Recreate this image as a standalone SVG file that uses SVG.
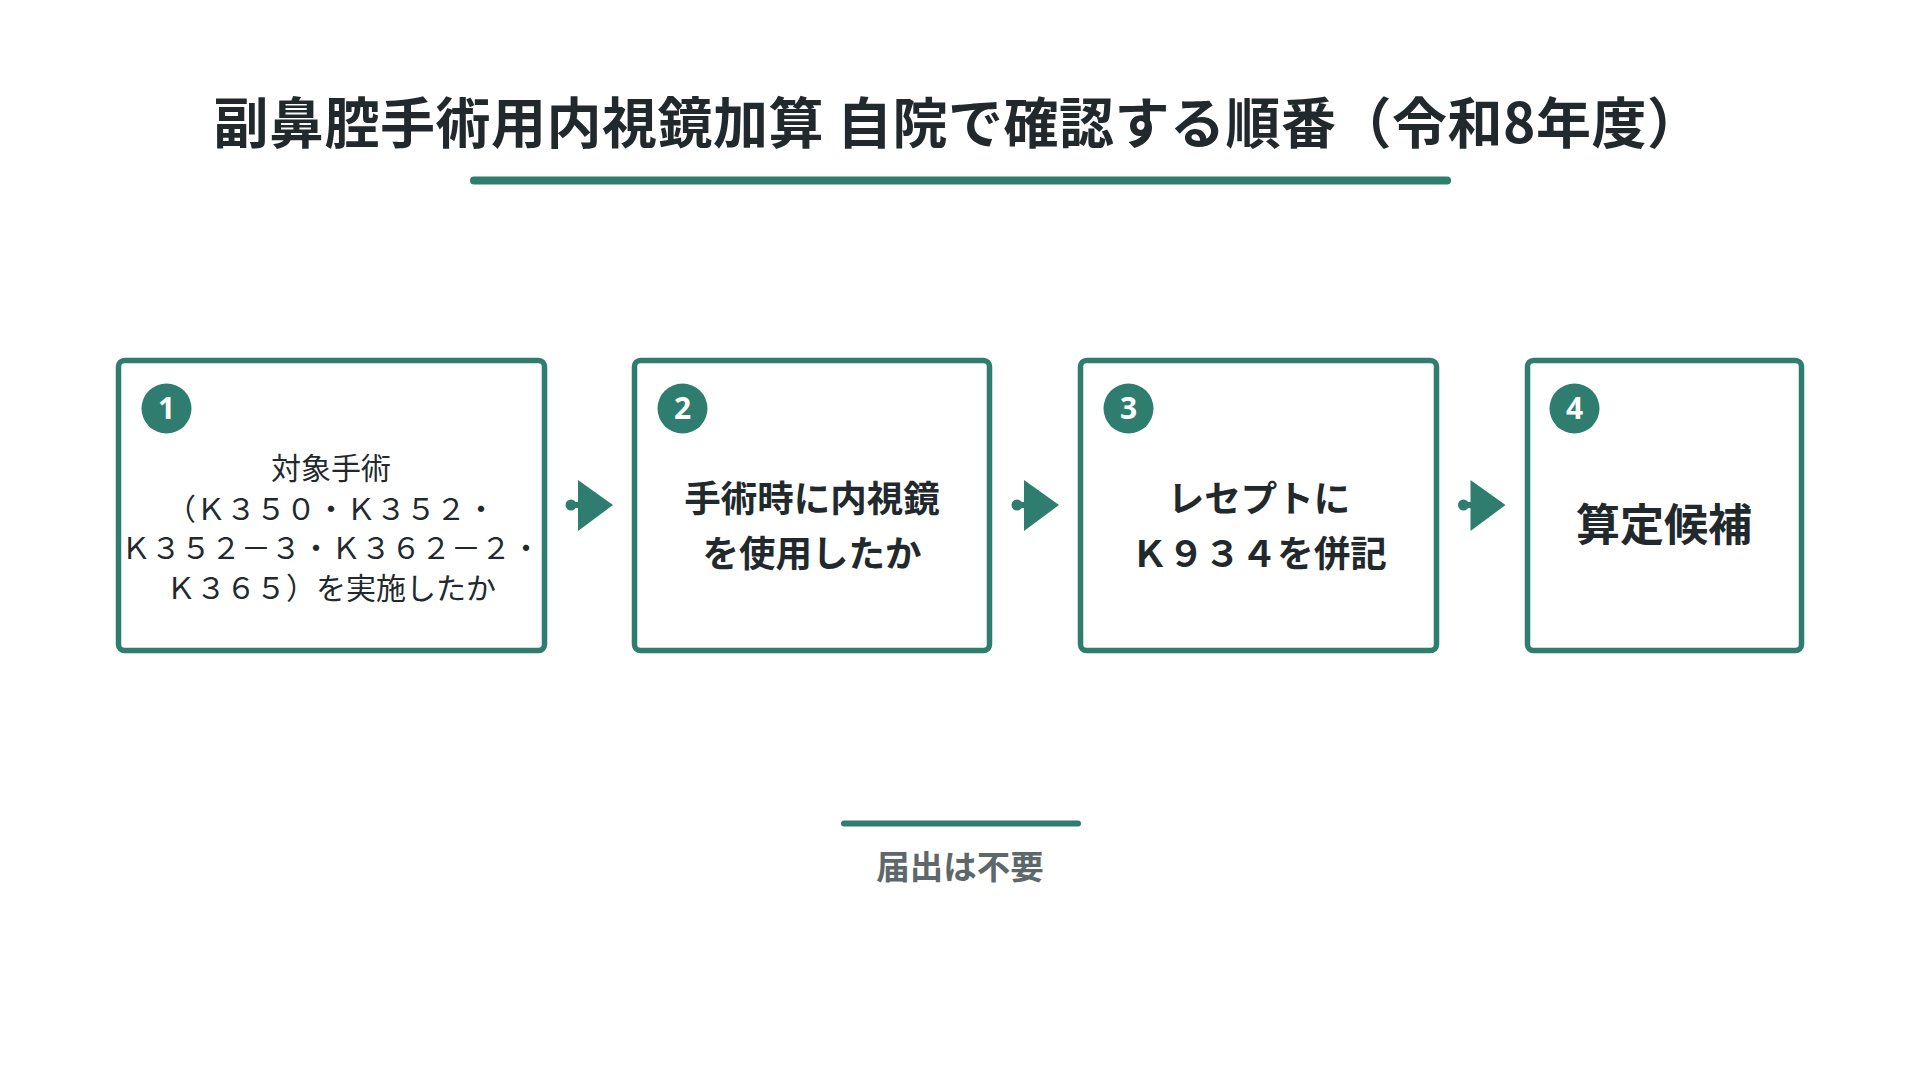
<svg xmlns="http://www.w3.org/2000/svg" width="1920" height="1080" viewBox="0 0 1920 1080">
<defs>
<style>
.t{font-family:"Noto Sans CJK JP","Noto Sans",sans-serif;}
.title{font-size:55px;font-weight:700;fill:#22292d;letter-spacing:0.5px;}
.box{fill:#ffffff;stroke:#2e7d6e;stroke-width:5.5;}
.badge{fill:#2e7d6e;}
.num{font-family:"Noto Sans","Noto Sans CJK JP",sans-serif;font-size:30px;font-weight:700;fill:#ffffff;text-anchor:middle;}
.body{font-size:30px;font-weight:400;fill:#22292d;text-anchor:middle;}
.bold{font-size:36.5px;font-weight:700;fill:#22292d;text-anchor:middle;}
.big{font-size:44px;font-weight:700;fill:#22292d;text-anchor:middle;}
.rule{stroke:#2e7d6e;stroke-linecap:round;}
.arr{fill:#2e7d6e;}
.note{font-size:33.5px;font-weight:700;fill:#5d686b;text-anchor:middle;}
</style>
</defs>
<rect width="1920" height="1080" fill="#ffffff"/>
<g id="title">
<text class="t title" x="958" y="143" text-anchor="middle">副鼻腔手術用内視鏡加算 自院で確認する順番（令和8年度）</text>
<line class="rule" x1="474" y1="180.5" x2="1447" y2="180.5" stroke-width="8"/>
</g>
<g id="node1">
<rect class="box" x="118.5" y="360.5" width="426" height="290" rx="6"/>
<circle class="badge" cx="166.5" cy="408.5" r="25"/>
<text class="num" x="166.5" y="419">1</text>
<text class="t body" x="331" y="479">対象手術</text>
<text class="t body" x="331" y="519.5">（Ｋ３５０・Ｋ３５２・</text>
<text class="t body" x="331" y="559">Ｋ３５２－３・Ｋ３６２－２・</text>
<text class="t body" x="331" y="598.5">Ｋ３６５）を実施したか</text>
</g>
<g id="node2">
<rect class="box" x="634.5" y="360.5" width="355" height="290" rx="6"/>
<circle class="badge" cx="682.5" cy="408.5" r="25"/>
<text class="num" x="682.5" y="419">2</text>
<text class="t bold" x="812" y="512">手術時に内視鏡</text>
<text class="t bold" x="812" y="567">を使用したか</text>
</g>
<g id="node3">
<rect class="box" x="1080.5" y="360.5" width="356" height="290" rx="6"/>
<circle class="badge" cx="1128.5" cy="408.5" r="25"/>
<text class="num" x="1128.5" y="419">3</text>
<text class="t bold" x="1259" y="512">レセプトに</text>
<text class="t bold" x="1259" y="567">Ｋ９３４を併記</text>
</g>
<g id="node4">
<rect class="box" x="1527.5" y="360.5" width="274" height="290" rx="6"/>
<circle class="badge" cx="1574.5" cy="408.5" r="25"/>
<text class="num" x="1574.5" y="419">4</text>
<text class="t big" x="1664" y="541">算定候補</text>
</g>
<g id="connectors">
<g class="arr">
<circle cx="571" cy="505" r="5.5"/><rect x="571" y="502" width="9" height="6"/><polygon points="578,480 613,505 578,531"/>
</g>
<g class="arr">
<circle cx="1017" cy="505" r="5.5"/><rect x="1017" y="502" width="9" height="6"/><polygon points="1024,480 1059,505 1024,531"/>
</g>
<g class="arr">
<circle cx="1463.5" cy="505" r="5.5"/><rect x="1463.5" y="502" width="9" height="6"/><polygon points="1470.5,480 1505.5,505 1470.5,531"/>
</g>
</g>
<g id="footer">
<line class="rule" x1="844" y1="823.5" x2="1078" y2="823.5" stroke-width="6"/>
<text class="t note" x="960" y="879">届出は不要</text>
</g>
</svg>
